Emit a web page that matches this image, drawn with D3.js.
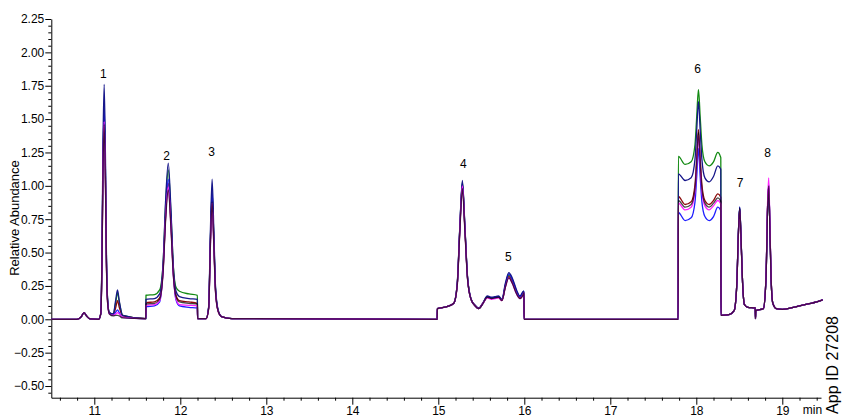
<!DOCTYPE html>
<html>
<head>
<meta charset="utf-8">
<script src="https://cdn.jsdelivr.net/npm/d3@7"></script>
<style>
  body { margin: 0; background: #fff; }
  svg { display: block; font-family: Arial, 'Liberation Sans', sans-serif; }
  .axis path, .axis line { stroke: #000; }
  .axis text { fill: #000; }
</style>
</head>
<body>
<svg width="842" height="417"></svg>
<script>
'use strict';

// retention times (min), shared by every trace
var times = [10.50, 10.80, 10.85, 10.88, 10.91, 10.95, 11.05, 11.075, 11.09, 11.10,
    11.115, 11.13, 11.14, 11.155, 11.175, 11.22, 11.25, 11.27, 11.29, 11.33,
    11.599, 11.601, 11.70, 11.76, 11.80, 11.83, 11.86, 11.89, 11.92, 11.95,
    11.99, 12.10, 12.199, 12.201, 12.30, 12.33, 12.35, 12.37, 12.39, 12.41,
    12.44, 12.48, 12.60, 14.987, 14.989, 15.10, 15.18, 15.22, 15.25, 15.28,
    15.31, 15.34, 15.38, 15.43, 15.47, 15.52, 15.57, 15.62, 15.66, 15.70,
    15.74, 15.78, 15.82, 15.86, 15.91, 15.95, 15.99, 15.996, 15.998, 17.789,
    17.791, 17.87, 17.94, 17.985, 18.005, 18.025, 18.045, 18.065, 18.10, 18.15,
    18.20, 18.25, 18.28, 18.285, 18.287, 18.38, 18.44, 18.47, 18.49, 18.505,
    18.52, 18.54, 18.56, 18.60, 18.685, 18.688, 18.692, 18.78, 18.81, 18.83,
    18.842, 18.855, 18.87, 18.89, 18.93, 19.00, 19.10, 19.20, 19.30, 19.40,
    19.47];

// relative abundance of each trace
var greenVals = [0, 0, 0.02, 0.05, 0.025, 0.003, 0, 0.04, 0.50, 1.14,
    1.58, 1.08, 0.50, 0.14, 0.05, 0.04, 0.13, 0.20, 0.13, 0.03,
    0.005, 0.18, 0.185, 0.22, 0.42, 0.87, 1.12, 0.81, 0.39, 0.24,
    0.21, 0.19, 0.18, 0.005, 0.005, 0.09, 0.60, 0.955, 0.60, 0.22,
    0.065, 0.02, 0.005, 0, 0.08, 0.095, 0.12, 0.26, 0.68, 1.03,
    0.68, 0.31, 0.15, 0.10, 0.08, 0.12, 0.17, 0.16, 0.165, 0.17,
    0.145, 0.25, 0.33, 0.29, 0.20, 0.165, 0.20, 0.205, 0, 0,
    1.22, 1.16, 1.18, 1.31, 1.52, 1.72, 1.52, 1.31, 1.18, 1.15,
    1.18, 1.25, 1.22, 1.21, 0.03, 0.035, 0.065, 0.25, 0.65, 0.83,
    0.60, 0.25, 0.11, 0.09, 0.085, 0.005, 0.065, 0.08, 0.30, 0.86,
    1.00, 0.71, 0.30, 0.12, 0.08, 0.075, 0.085, 0.10, 0.115, 0.13, 0.145];

var darkRedVals = [0, 0, 0.02, 0.05, 0.025, 0.003, 0, 0.04, 0.47, 1.08,
    1.50, 1.03, 0.47, 0.13, 0.045, 0.035, 0.09, 0.14, 0.09, 0.025,
    0.005, 0.125, 0.13, 0.16, 0.37, 0.78, 1.02, 0.73, 0.34, 0.18,
    0.14, 0.13, 0.12, 0.005, 0.005, 0.085, 0.58, 0.92, 0.58, 0.21,
    0.06, 0.02, 0.005, 0, 0.08, 0.095, 0.12, 0.26, 0.67, 1.01,
    0.67, 0.31, 0.15, 0.10, 0.08, 0.12, 0.165, 0.155, 0.16, 0.165,
    0.14, 0.25, 0.32, 0.28, 0.20, 0.16, 0.195, 0.20, 0, 0,
    0.92, 0.86, 0.88, 1.01, 1.21, 1.42, 1.21, 1.01, 0.89, 0.86,
    0.89, 0.94, 0.92, 0.91, 0.03, 0.035, 0.065, 0.25, 0.65, 0.83,
    0.60, 0.25, 0.11, 0.09, 0.085, 0.005, 0.065, 0.08, 0.30, 0.86,
    1.00, 0.71, 0.30, 0.12, 0.08, 0.075, 0.085, 0.10, 0.115, 0.13, 0.145];

var navyVals = [0, 0, 0.02, 0.05, 0.025, 0.003, 0, 0.04, 0.55, 1.27,
    1.76, 1.20, 0.55, 0.15, 0.05, 0.04, 0.15, 0.22, 0.14, 0.03,
    0.005, 0.15, 0.155, 0.19, 0.42, 0.90, 1.17, 0.84, 0.38, 0.21,
    0.17, 0.155, 0.15, 0.005, 0.005, 0.10, 0.66, 1.05, 0.66, 0.24,
    0.07, 0.02, 0.005, 0, 0.08, 0.095, 0.12, 0.27, 0.69, 1.04,
    0.69, 0.32, 0.155, 0.105, 0.085, 0.125, 0.175, 0.165, 0.17, 0.175,
    0.15, 0.27, 0.35, 0.31, 0.22, 0.175, 0.21, 0.21, 0, 0,
    1.09, 1.04, 1.06, 1.20, 1.42, 1.63, 1.42, 1.20, 1.06, 1.03,
    1.07, 1.15, 1.13, 1.12, 0.03, 0.035, 0.065, 0.25, 0.66, 0.84,
    0.61, 0.25, 0.11, 0.09, 0.085, 0.005, 0.065, 0.08, 0.30, 0.86,
    1.01, 0.71, 0.30, 0.12, 0.08, 0.075, 0.085, 0.10, 0.115, 0.13, 0.145];

var blueVals = [0, 0, 0.02, 0.05, 0.025, 0.003, 0, 0.04, 0.50, 1.15,
    1.60, 1.10, 0.50, 0.14, 0.045, 0.03, 0.055, 0.07, 0.05, 0.015,
    0.005, 0.095, 0.10, 0.13, 0.38, 0.80, 1.05, 0.76, 0.34, 0.145,
    0.10, 0.09, 0.085, 0.005, 0.005, 0.09, 0.60, 0.96, 0.60, 0.22,
    0.065, 0.02, 0.005, 0, 0.08, 0.095, 0.12, 0.26, 0.68, 1.02,
    0.68, 0.31, 0.15, 0.10, 0.08, 0.12, 0.17, 0.16, 0.165, 0.17,
    0.145, 0.26, 0.34, 0.30, 0.21, 0.17, 0.205, 0.21, 0, 0,
    0.80, 0.74, 0.76, 0.88, 1.07, 1.28, 1.07, 0.88, 0.77, 0.74,
    0.77, 0.84, 0.82, 0.81, 0.03, 0.035, 0.065, 0.25, 0.66, 0.84,
    0.61, 0.25, 0.11, 0.09, 0.085, 0.005, 0.065, 0.08, 0.30, 0.86,
    1.01, 0.71, 0.30, 0.12, 0.08, 0.075, 0.085, 0.10, 0.115, 0.13, 0.145];

var magentaVals = [0, 0, 0.02, 0.05, 0.025, 0.003, 0, 0.04, 0.46, 1.07,
    1.48, 1.02, 0.46, 0.12, 0.04, 0.03, 0.04, 0.05, 0.04, 0.015,
    0.005, 0.105, 0.11, 0.14, 0.36, 0.77, 0.99, 0.71, 0.32, 0.155,
    0.11, 0.105, 0.10, 0.005, 0.005, 0.08, 0.55, 0.87, 0.55, 0.20,
    0.06, 0.02, 0.005, 0, 0.08, 0.095, 0.12, 0.25, 0.66, 1.00,
    0.66, 0.30, 0.15, 0.10, 0.08, 0.12, 0.16, 0.15, 0.155, 0.16,
    0.14, 0.24, 0.31, 0.27, 0.19, 0.155, 0.19, 0.20, 0, 0,
    0.87, 0.82, 0.84, 0.96, 1.16, 1.38, 1.16, 0.96, 0.85, 0.82,
    0.85, 0.89, 0.87, 0.86, 0.03, 0.035, 0.065, 0.25, 0.64, 0.82,
    0.59, 0.25, 0.11, 0.09, 0.085, 0.005, 0.065, 0.08, 0.31, 0.90,
    1.06, 0.74, 0.31, 0.12, 0.08, 0.075, 0.085, 0.10, 0.115, 0.13, 0.145];

var blackVals = [0, 0, 0.02, 0.05, 0.025, 0.003, 0, 0.04, 0.45, 1.05,
    1.46, 1.00, 0.45, 0.12, 0.04, 0.025, 0.03, 0.03, 0.025, 0.01,
    0.005, 0.115, 0.12, 0.15, 0.35, 0.75, 0.97, 0.70, 0.32, 0.17,
    0.13, 0.12, 0.115, 0.005, 0.005, 0.08, 0.55, 0.88, 0.55, 0.20,
    0.06, 0.02, 0.005, 0, 0.08, 0.095, 0.12, 0.25, 0.65, 0.98,
    0.65, 0.30, 0.15, 0.10, 0.08, 0.12, 0.165, 0.155, 0.16, 0.165,
    0.14, 0.24, 0.31, 0.27, 0.19, 0.155, 0.19, 0.20, 0, 0,
    0.89, 0.84, 0.86, 0.98, 1.18, 1.40, 1.18, 0.98, 0.87, 0.84,
    0.87, 0.91, 0.89, 0.88, 0.03, 0.035, 0.065, 0.25, 0.65, 0.83,
    0.60, 0.25, 0.11, 0.09, 0.085, 0.005, 0.065, 0.08, 0.30, 0.85,
    1.00, 0.70, 0.30, 0.12, 0.08, 0.075, 0.085, 0.10, 0.115, 0.13, 0.145];

// peak numbers and where they are written
var peakNames = ['1', '2', '3', '4', '5', '6', '7', '8'];
var peakTimes = [11.105, 11.842, 12.365, 15.29, 15.814, 18.016, 18.508, 18.83];
var peakLabelVals = [1.806, 1.192, 1.222, 1.132, 0.436, 1.844, 0.99, 1.215];

// tick values
var yTicks = [-0.5, -0.25, 0, 0.25, 0.5, 0.75, 1, 1.25, 1.5, 1.75, 2, 2.25];
var xTicks = [11, 12, 13, 14, 15, 16, 17, 18, 19];

// draw order, last one ends up on top
var traces = [greenVals, darkRedVals, blueVals, navyVals, magentaVals, blackVals];
var traceColors = ['#138a13', '#8b0a0a', '#1f1fff', '#16168a', '#ff22ff', '#000000'];
var traceOpacity = [1, 1, 1, 1, 1, 0.72];

document.addEventListener('DOMContentLoaded', function() {
    drawChromatogram();
});

function drawChromatogram() {

    var svg = d3.select('svg');

    var x = d3.scaleLinear().domain([10.5, 19.45]).range([51.3, 821]);
    var y = d3.scaleLinear().domain([-0.5875, 2.25]).range([397.7, 19]);

    // minor ticks first, then the labelled axes
    var xMinor = d3.range(10.6, 19.45, 0.2).filter(function(t) {
        return Math.abs(t - Math.round(t)) > 0.01;
    });
    svg.append('g')
        .attr('class', 'axis')
        .attr('transform', 'translate(0,397.7)')
        .call(d3.axisBottom(x).tickValues(xMinor).tickSize(3).tickFormat(''))
        .select('.domain').remove();

    var yMinor = d3.range(-0.55, 2.26, 0.05).filter(function(v) {
        return Math.abs(v * 4 - Math.round(v * 4)) > 0.01;
    });
    svg.append('g')
        .attr('class', 'axis')
        .attr('transform', 'translate(51.3,0)')
        .call(d3.axisLeft(y).tickValues(yMinor).tickSize(3).tickFormat(''))
        .select('.domain').remove();

    var xAxis = svg.append('g')
        .attr('class', 'axis')
        .attr('transform', 'translate(0,397.7)')
        .call(d3.axisBottom(x).tickValues(xTicks).tickSize(7).tickSizeOuter(0).tickPadding(2)
            .tickFormat(d3.format('d')));
    xAxis.selectAll('text').style('font-size', '12px');

    var yAxis = svg.append('g')
        .attr('class', 'axis')
        .attr('transform', 'translate(51.3,0)')
        .call(d3.axisLeft(y).tickValues(yTicks).tickSize(6).tickSizeOuter(0).tickPadding(1)
            .tickFormat(d3.format('.2f')));
    yAxis.selectAll('text').style('font-size', '12px');

    // unit label sits where a tick label would
    svg.append('text')
        .attr('x', x(19.35))
        .attr('y', 414)
        .attr('text-anchor', 'middle')
        .style('font-size', '12px')
        .text('min');

    svg.append('text')
        .attr('transform', 'translate(19,218) rotate(-90)')
        .attr('text-anchor', 'middle')
        .style('font-size', '13px')
        .text('Relative Abundance');

    svg.append('text')
        .attr('transform', 'translate(838,365) rotate(-90)')
        .attr('text-anchor', 'middle')
        .style('font-size', '16px')
        .text('App ID 27208');

    // one line per trace
    var line = d3.line()
        .x(function(d) { return x(d[0]); })
        .y(function(d) { return y(d[1]); })
        .curve(d3.curveMonotoneX);

    svg.append('g').selectAll('path')
        .data(traces)
        .enter().append('path')
        .attr('fill', 'none')
        .attr('stroke', function(d, i) { return traceColors[i]; })
        .attr('stroke-opacity', function(d, i) { return traceOpacity[i]; })
        .attr('stroke-width', 1.3)
        .attr('stroke-linejoin', 'round')
        .attr('d', function(vals) {
            return line(vals.map(function(v, i) { return [times[i], v]; }));
        });

    // peak numbers
    svg.append('g').selectAll('text')
        .data(peakNames)
        .enter().append('text')
        .attr('x', function(d, i) { return x(peakTimes[i]); })
        .attr('y', function(d, i) { return y(peakLabelVals[i]); })
        .attr('text-anchor', 'middle')
        .style('font-size', '12px')
        .text(function(d) { return d; });
}
</script>
</body>
</html>
